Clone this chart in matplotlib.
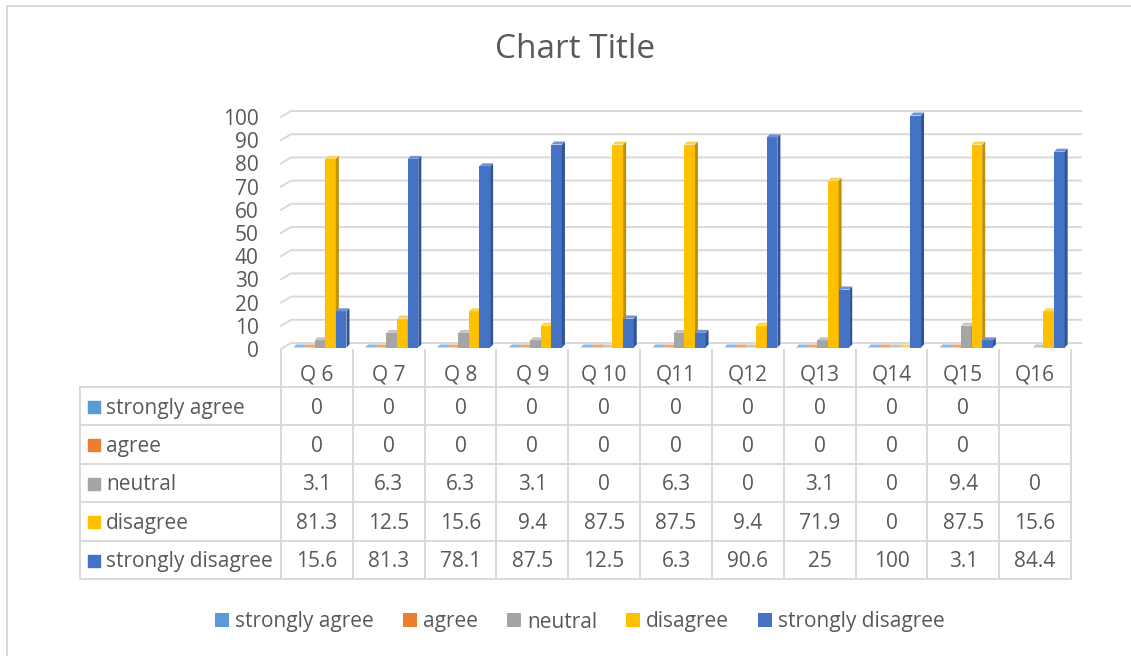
import numpy as np
import matplotlib
matplotlib.use('Agg')
import matplotlib.pyplot as plt
from matplotlib.patches import Patch
from matplotlib.lines import Line2D
from matplotlib.transforms import offset_copy

plt.rcParams['font.family'] = ['Open Sans', 'DejaVu Sans']

# data
questions = ['Q 6', 'Q 7', 'Q 8', 'Q 9', 'Q 10', 'Q11', 'Q12', 'Q13', 'Q14', 'Q15', 'Q16']
series = ['strongly agree', 'agree', 'neutral', 'disagree', 'strongly disagree']
strongly_agree = [0, 0, 0, 0, 0, 0, 0, 0, 0, 0, np.nan]
agree = [0, 0, 0, 0, 0, 0, 0, 0, 0, 0, np.nan]
neutral = [3.1, 6.3, 6.3, 3.1, 0, 6.3, 0, 3.1, 0, 9.4, 0]
disagree = [81.3, 12.5, 15.6, 9.4, 87.5, 87.5, 9.4, 71.9, 0, 87.5, 15.6]
strongly_disagree = [15.6, 81.3, 78.1, 87.5, 12.5, 6.3, 90.6, 25, 100, 3.1, 84.4]
yticks = list(range(0, 101, 10))

values = [strongly_agree, agree, neutral, disagree, strongly_disagree]
front = ['#5B9BD5', '#ED7D31', '#A5A5A5', '#FFC000', '#4472C4']
side = ['#3F77AD', '#B85E20', '#7F7F7F', '#BF9000', '#2F5597']
top = ['#8AB8E6', '#F4A16B', '#C5C5C5', '#FFD34D', '#6F93D6']

txtc = '#595959'
gridc = '#D9D9D9'
fs = 15
W, H = 1131, 656

fig = plt.figure(figsize=(W / 100, H / 100), dpi=100)
fig.patch.set_facecolor('white')

# plot area (front plane)
ax = fig.add_axes([281 / W, 1 - 349 / H, 790 / W, 232 / H])
ax.set_xlim(-0.5, 10.5)
ax.set_ylim(0, 100)
for s in ax.spines.values():
    s.set_visible(False)
ax.set_xticks([])
ax.set_yticks(yticks)
ax.tick_params(axis='y', length=0, pad=16, labelsize=fs, labelcolor=txtc)

px_x = 11 / 790.0   # data units per pixel
px_y = 100 / 232.0

# back wall gridlines
gx, gy = 10 * px_x, 6 * px_y
for v in yticks:
    ax.plot([-0.5, -0.5 + gx, 10.5 + gx], [v, v + gy, v + gy], color=gridc, lw=1.4,
            clip_on=False, zorder=1)

# 3d bars
bw = 0.148
dx, dy = 3 * px_x, 3 * px_y
tr = offset_copy(ax.transData, fig=fig, x=3, y=1.5, units='dots')
xs = np.arange(len(questions))
for si in range(len(series)):
    for qi in xs:
        h = values[si][qi]
        if np.isnan(h):
            continue
        xc = qi + (si - 2) * bw
        x0, x1 = xc - bw / 2, xc + bw / 2
        ax.bar(xc, h, bw, color=front[si], transform=tr, clip_on=False, zorder=3)
        ax.fill([x1, x1 + dx, x1 + dx, x1], [0, dy, h + dy, h], color=side[si],
                transform=tr, clip_on=False, zorder=3, lw=0)
        ax.fill([x0, x0 + dx, x1 + dx, x1], [h, h + dy, h + dy, h], color=top[si],
                transform=tr, clip_on=False, zorder=3, lw=0)

# data table
lab_w = 201 / 71.82
tax = fig.add_axes([80 / W, 1 - 579 / H, 991 / W, 229 / H])
tax.set_xlim(-0.5 - lab_w, 10.5)
hdr = 37 / 38.4
tax.set_ylim(0, 5 + hdr)
tax.axis('off')
for r in range(6):
    tax.plot([-0.5 - lab_w, 10.5], [r, r], color=gridc, lw=1.4, clip_on=False)
tax.plot([-0.5 - lab_w, -0.5 - lab_w], [0, 5], color=gridc, lw=1.4, clip_on=False)
for k in range(12):
    tax.plot([k - 0.5, k - 0.5], [0, 5 + hdr], color=gridc, lw=1.4, clip_on=False)

for qi, q in enumerate(questions):
    tax.text(qi, 5 + hdr / 2 - 0.17, q, ha='center', va='center', fontsize=fs, color=txtc)
for si, name in enumerate(series):
    yc = 4.5 - si - 0.05
    tax.scatter([-0.5 - lab_w + 14.5 / 71.82], [yc + 0.03], marker='s', s=65,
                color=front[si], clip_on=False)
    tax.text(-0.5 - lab_w + 26 / 71.82, yc, name, ha='left', va='center', fontsize=fs,
             color=txtc)
    for qi in xs:
        v = values[si][qi]
        if np.isnan(v):
            continue
        tax.text(qi, yc, f'{v:g}', ha='center', va='center', fontsize=fs, color=txtc)

# legend
handles = [Patch(facecolor=front[i], edgecolor='none', label=series[i]) for i in range(5)]
fig.legend(handles=handles, loc='center', bbox_to_anchor=(580 / W, 1 - 622 / H), ncol=5,
           frameon=False, fontsize=fs, handlelength=0.65, handleheight=0.65,
           handletextpad=0.3, columnspacing=1.4, labelcolor=txtc)

fig.text(575 / W, 1 - 49 / H, 'Chart Title', ha='center', va='center', fontsize=24,
         color=txtc)

# chart frame
fig.add_artist(Line2D([6.5 / W, 6.5 / W], [0, 1 - 5.5 / H], color=gridc, lw=1.4))
fig.add_artist(Line2D([6.5 / W, 1], [1 - 5.5 / H, 1 - 5.5 / H], color=gridc, lw=1.4))

fig.savefig('out.png', dpi=100)
